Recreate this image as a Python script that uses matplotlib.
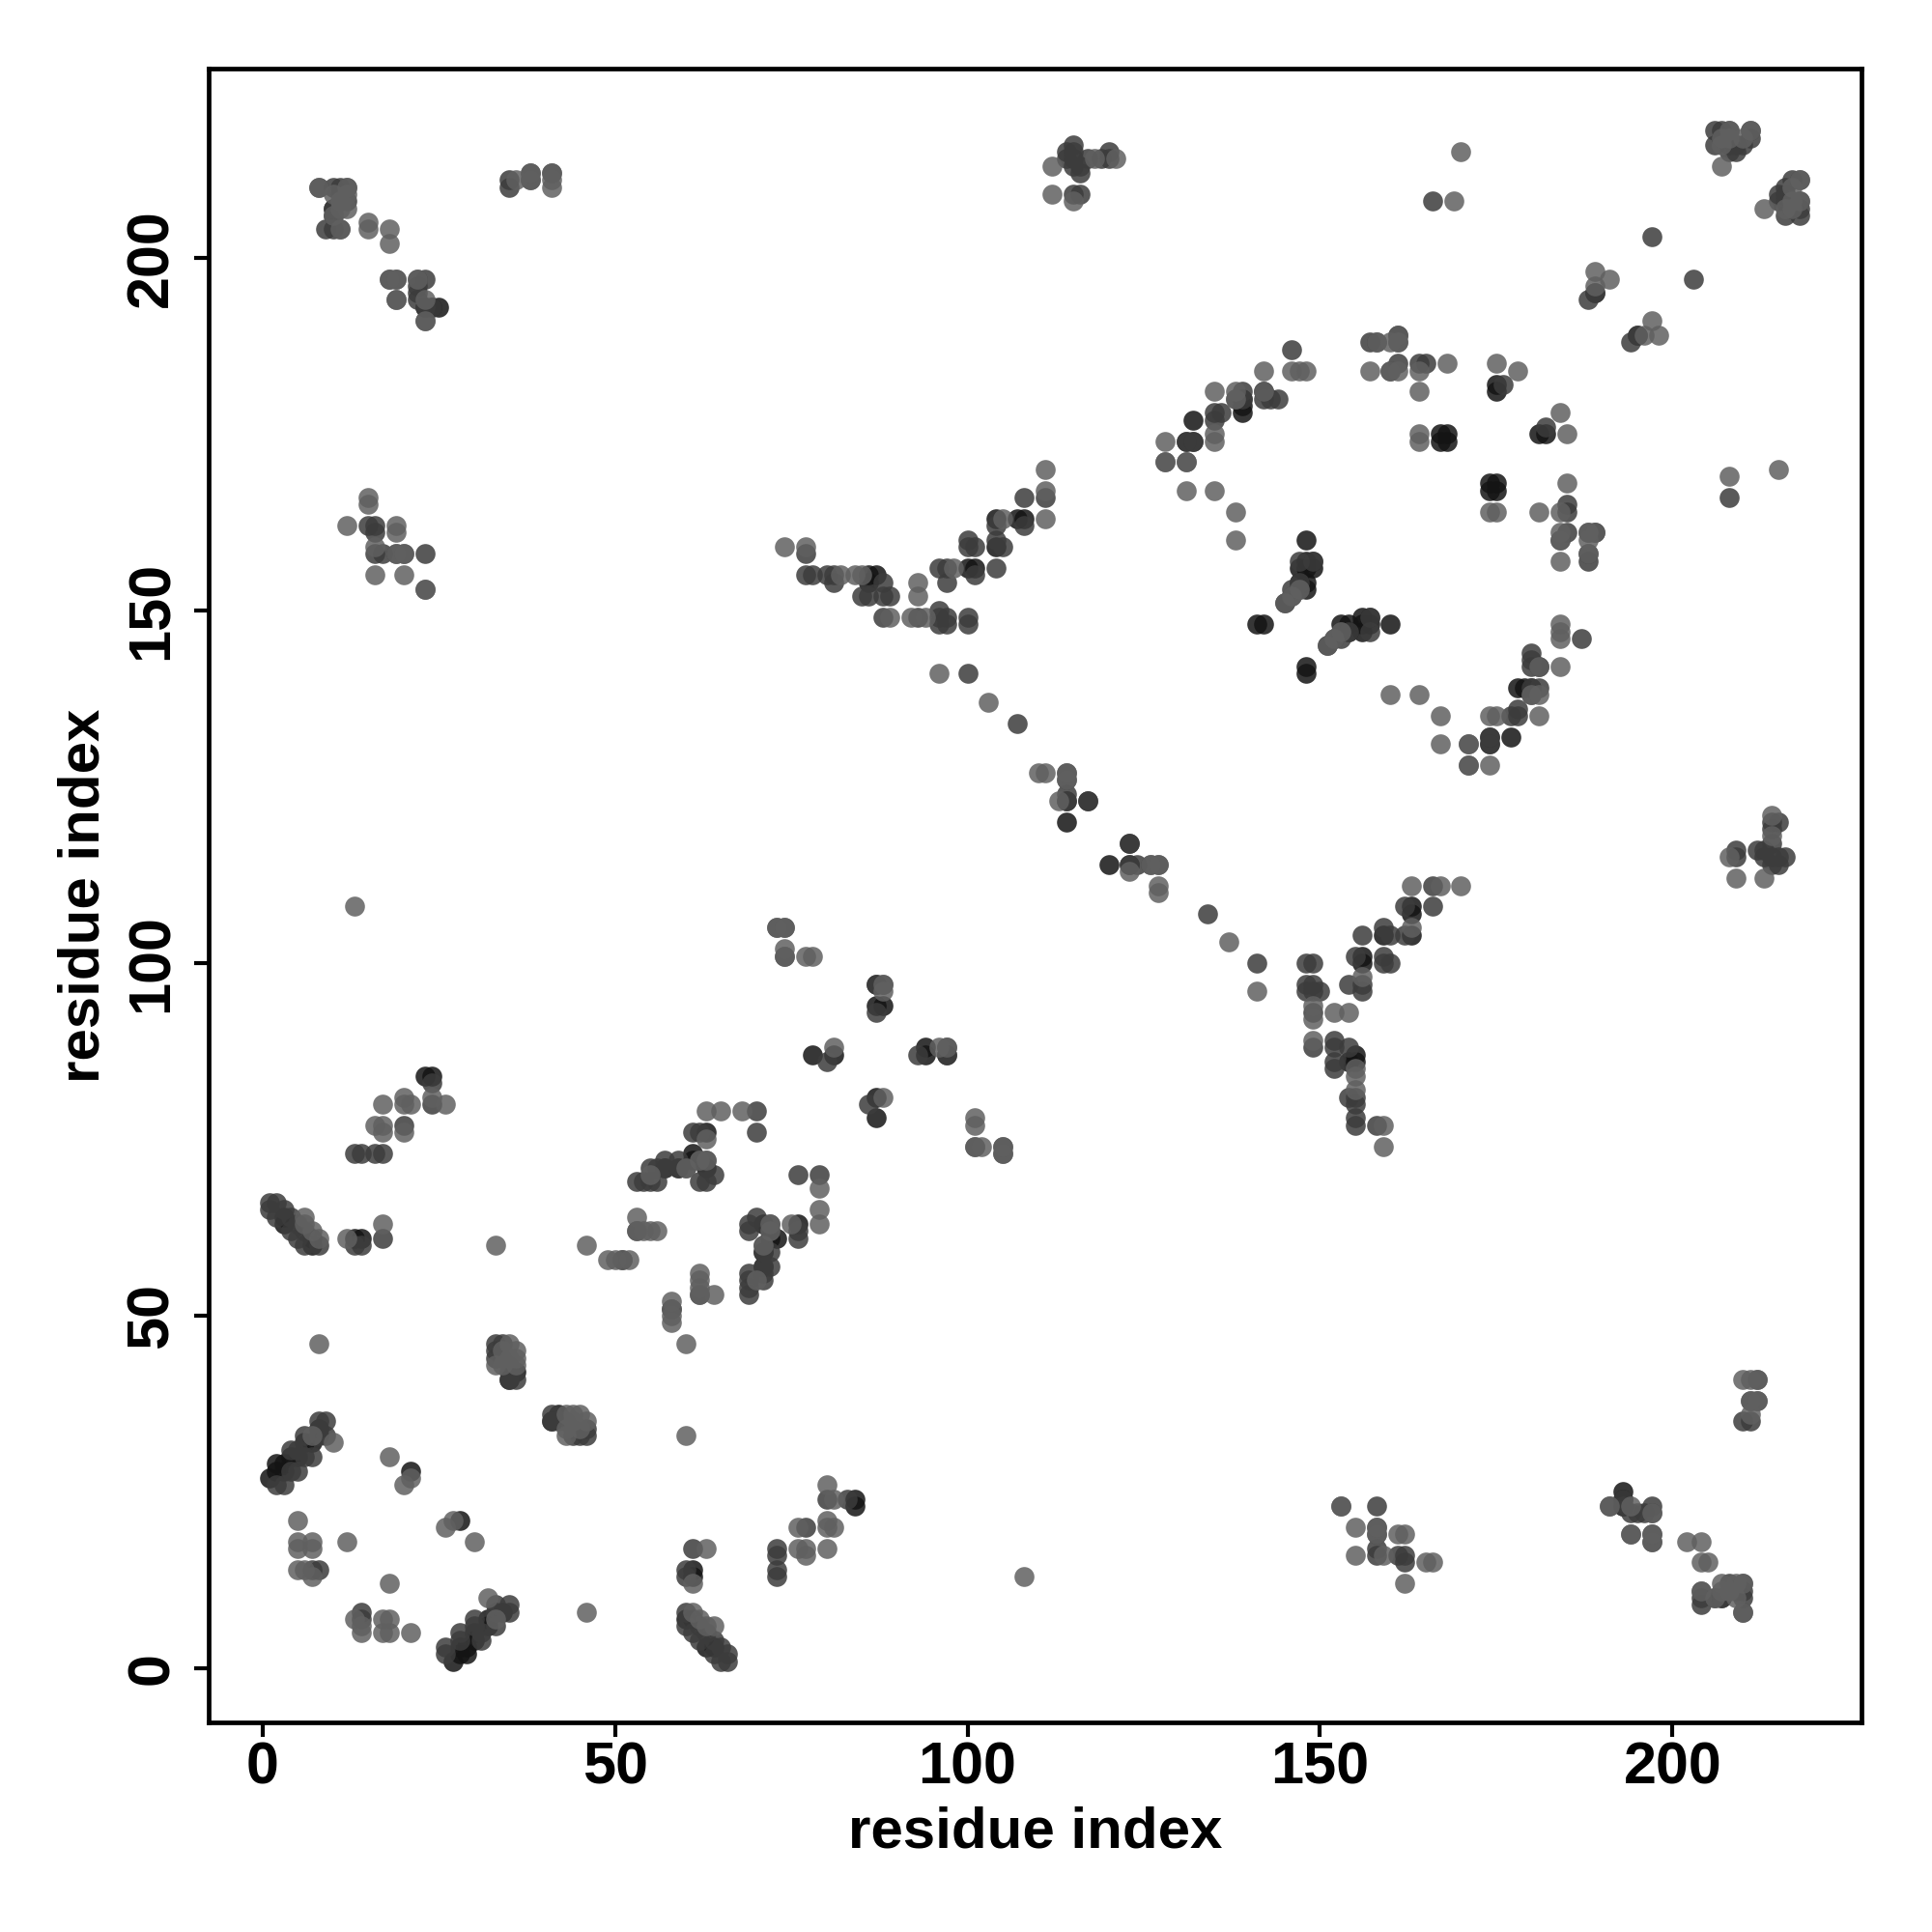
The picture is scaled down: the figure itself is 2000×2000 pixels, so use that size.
import matplotlib
matplotlib.use("Agg")
import matplotlib.pyplot as plt

# residue pairs, grouped by how dark the dot is (each pair is mirrored below)
contacts_dark = [
    (1, 27), (2, 28), (2, 29), (3, 28), (3, 29), (4, 30), (5, 30), (6, 32), (7, 32), (8, 34),
    (3, 63), (3, 64), (7, 60), (7, 61), (14, 61), (13, 61), (21, 28), (24, 84), (23, 84),
    (87, 97), (87, 94), (88, 94), (81, 87), (78, 87), (94, 88), (61, 73), (63, 76), (61, 72), (63, 71),
    (71, 59), (71, 57), (76, 63), (36, 42), (35, 41), (42, 36), (61, 14), (61, 13),
    (86, 155), (87, 155), (86, 154), (100, 156), (101, 156), (104, 163), (107, 163), (108, 163), (104, 159),
    (132, 177), (139, 178), (139, 179), (148, 156), (148, 157), (147, 156), (149, 156), (148, 154), (147, 154),
    (141, 148), (142, 148), (145, 151), (148, 160), (174, 167), (175, 167), (174, 168), (175, 168),
    (167, 174), (168, 174), (167, 175), (168, 175), (175, 181), (175, 182), (181, 175), (114, 123),
    (114, 120), (120, 114), (123, 117), (153, 148), (156, 148), (156, 149), (157, 149), (160, 148),
    (148, 141), (148, 142), (174, 132), (174, 131), (177, 132), (180, 139), (179, 139), (181, 142),
    (193, 25), (10, 207), (10, 206), (25, 193), (24, 193), (23, 193),
    (189, 195), (161, 189), (58, 51),
]
contacts_medium = [
    (2, 26), (3, 26), (4, 28), (4, 31), (5, 28), (5, 31), (6, 30), (7, 30), (6, 33), (8, 33), (8, 35), (9, 35), (9, 33),
    (1, 65), (1, 66), (2, 64), (2, 66), (3, 65), (4, 62), (4, 64), (5, 61), (5, 63), (6, 60), (6, 62), (8, 60),
    (17, 61), (13, 60), (14, 60), (13, 73), (14, 73), (16, 73), (17, 73), (20, 77), (24, 83), (24, 80),
    (33, 45), (33, 46), (33, 44), (34, 44), (34, 46), (35, 43), (35, 42), (36, 41), (42, 35), (41, 35), (43, 35),
    (14, 7), (14, 8), (7, 14), (8, 14), (61, 17), (73, 17), (73, 16), (73, 14), (73, 13),
    (62, 53), (69, 53), (69, 55), (69, 56), (69, 62), (69, 63), (70, 64), (71, 55), (71, 56), (72, 57), (72, 59),
    (73, 105), (74, 105), (74, 101), (87, 93), (80, 86), (93, 87), (97, 87), (97, 88), (70, 76), (70, 79),
    (53, 69), (54, 69), (55, 69), (56, 69), (55, 71), (57, 71), (57, 72), (59, 72), (59, 71), (60, 71),
    (62, 72), (63, 72), (62, 69), (63, 69), (64, 70), (76, 70), (79, 70), (76, 62), (76, 61),
    (77, 155), (78, 155), (80, 155), (81, 155), (81, 154), (85, 152), (86, 152), (88, 154), (88, 152), (89, 152),
    (88, 149), (93, 149), (96, 150), (96, 149), (96, 148), (97, 149), (97, 148), (100, 148),
    (96, 156), (97, 156), (97, 154), (101, 155), (104, 156), (100, 160), (100, 159), (101, 159), (104, 160),
    (105, 159), (104, 162), (108, 162), (108, 166), (111, 166), (77, 158), (100, 141),
    (114, 127), (114, 124), (117, 123), (123, 114), (126, 114), (107, 134),
    (135, 177), (135, 178), (136, 178), (139, 180), (139, 181), (143, 180), (144, 180), (146, 187), (131, 174), (132, 174),
    (142, 180), (146, 153), (147, 153), (146, 152), (160, 184), (161, 185), (161, 188), (157, 188),
    (164, 185), (165, 185), (182, 176), (147, 157), (149, 157), (154, 147), (157, 147), (187, 146), (181, 139),
    (180, 144), (180, 143), (180, 142), (180, 138), (177, 135), (178, 136), (178, 135), (185, 165), (185, 164),
    (185, 161), (188, 158), (188, 157), (171, 131), (171, 128), (153, 23), (158, 23), (158, 19), (158, 16), (161, 16),
    (162, 15), (162, 16), (193, 24), (193, 23), (194, 22), (195, 22), (197, 23), (197, 19), (197, 18),
    (204, 11), (204, 10), (204, 9), (207, 10), (208, 12), (210, 11), (210, 35), (211, 35), (211, 38),
    (8, 210), (10, 210), (12, 210), (12, 208), (11, 209), (9, 204), (10, 204), (19, 194), (22, 197), (23, 197),
    (22, 194), (22, 196), (23, 191), (35, 210), (35, 211), (41, 212), (38, 212),
    (115, 214), (115, 213), (115, 209), (116, 209), (116, 213), (116, 212), (117, 214), (114, 215), (115, 215), (115, 216),
    (119, 214), (120, 215), (120, 214), (114, 214), (166, 208), (197, 203),
    (188, 194), (194, 188), (195, 189), (206, 216), (206, 218), (207, 218), (208, 216), (208, 217), (208, 218), (209, 215), (209, 216),
    (210, 216), (211, 217), (216, 206), (217, 207), (218, 206), (218, 207), (215, 208), (216, 209), (217, 211),
    (215, 209), (216, 210), (218, 211), (100, 149), (15, 162), (16, 162), (16, 158), (17, 158), (20, 158), (23, 158),
]
contacts_light = [
    (7, 33), (10, 32), (6, 63), (6, 64), (8, 61), (7, 62), (12, 61), (17, 63),
    (5, 14), (5, 17), (5, 18), (5, 21), (6, 14), (7, 13), (7, 17), (7, 18), (12, 18), (17, 5), (18, 12), (20, 26),
    (18, 30), (21, 27), (18, 7), (21, 5), (13, 108), (33, 60), (46, 60), (8, 46), (46, 8), (60, 33), (60, 46),
    (16, 77), (17, 77), (17, 76), (20, 76), (17, 80), (20, 81), (20, 80), (21, 80), (24, 81), (26, 80),
    (33, 43), (34, 45), (34, 43), (35, 46), (35, 44), (36, 45), (36, 44), (36, 43),
    (74, 102), (77, 101), (78, 101), (88, 96), (88, 97), (81, 88), (88, 81), (96, 88), (101, 78), (101, 77),
    (101, 74), (102, 74), (105, 74), (105, 73), (63, 79), (65, 79), (68, 79), (63, 75), (79, 68), (79, 65), (79, 63),
    (53, 64), (53, 62), (54, 62), (55, 62), (56, 62), (49, 58), (50, 58), (51, 58), (52, 58),
    (62, 56), (62, 55), (62, 54), (64, 53), (58, 52), (58, 50), (58, 49), (70, 55), (71, 60), (72, 62), (72, 63), (75, 63),
    (74, 159), (77, 159), (82, 155), (84, 155), (85, 155), (89, 149), (92, 149), (94, 149), (93, 154), (93, 152),
    (98, 156), (96, 141), (103, 137), (110, 127), (111, 127), (114, 126), (113, 123), (127, 114), (127, 111), (127, 110),
    (141, 96), (111, 170), (111, 167), (111, 163), (105, 163),
    (128, 174), (128, 171), (131, 171), (131, 167), (135, 167), (138, 164), (138, 160), (135, 181), (135, 175), (135, 174),
    (138, 180), (138, 181), (142, 184), (142, 181), (146, 184), (147, 184), (148, 184), (158, 188), (161, 184), (157, 184), (164, 184),
    (164, 181), (168, 185), (164, 175), (164, 174), (175, 185), (178, 184), (181, 164), (184, 178), (185, 175),
    (174, 164), (175, 164), (185, 168), (184, 164), (184, 161), (184, 160), (189, 161), (188, 161), (188, 160), (184, 157),
    (160, 138), (164, 138), (167, 135), (167, 131), (171, 131), (174, 128), (174, 135), (175, 135), (181, 135),
    (184, 142), (184, 148), (184, 147), (184, 146), (153, 147), (152, 146), (151, 145),
    (155, 20), (155, 16), (158, 20), (159, 16), (161, 19), (162, 19), (162, 12), (165, 15), (166, 15),
    (191, 23), (194, 23), (194, 19), (197, 22), (202, 18), (204, 18), (204, 15), (205, 15), (207, 11), (207, 12), (209, 12),
    (208, 11), (209, 10), (206, 10), (210, 12), (210, 8), (212, 38), (210, 41), (211, 41), (212, 41),
    (12, 209), (12, 207), (11, 204), (15, 205), (15, 204), (18, 204), (18, 202), (18, 197), (19, 197),
    (36, 211), (38, 211), (41, 211), (41, 210), (112, 213), (112, 209), (115, 208), (118, 214), (121, 214),
    (169, 208), (170, 215), (189, 198), (191, 197), (196, 189), (197, 191), (198, 189), (207, 213), (207, 216), (207, 217), (211, 218),
    (213, 207), (216, 207), (217, 208), (218, 208), (217, 210), (15, 165), (15, 166), (12, 162), (19, 162), (19, 161),
    (16, 155), (20, 155), (23, 153), (19, 158),
]

tick_values = [0, 50, 100, 150, 200]
axis_label = "residue index"

levels = [
    (contacts_dark, "#141414"),
    (contacts_medium, "#3c3c3c"),
    (contacts_light, "#606060"),
]

plt.rcParams["font.family"] = ["Liberation Sans", "DejaVu Sans"]
plt.rcParams["font.weight"] = "bold"

fig = plt.figure(figsize=(10, 10), dpi=200)
ax = fig.add_axes([216 / 2000, 1 - 1783 / 2000, (1927 - 216) / 2000, (1783 - 71) / 2000])

for pairs, color in levels:
    both = set()
    for a, b in pairs:
        both.add((a, b))
        both.add((b, a))
    xs = [p[0] for p in sorted(both)]
    ys = [p[1] for p in sorted(both)]
    ax.scatter(xs, ys, s=55, c=color, alpha=0.85, linewidths=0)

ax.set_xlim(-7.63, 226.8)
ax.set_ylim(-7.67, 226.8)
ax.set_xticks(tick_values)
ax.set_yticks(tick_values)
ax.tick_params(axis="x", length=5.5, width=1.5, labelsize=22, pad=1.5)
ax.tick_params(axis="y", length=5.5, width=1.5, labelsize=22, pad=5)
for label in ax.get_yticklabels():
    label.set_rotation(90)
    label.set_va("center")
for spine in ax.spines.values():
    spine.set_linewidth(1.7)
ax.set_xlabel(axis_label, fontsize=21.6, fontweight="bold", labelpad=3.5)
ax.set_ylabel(axis_label, fontsize=21.6, fontweight="bold", labelpad=5.5)

fig.savefig("out.png", dpi=200)
